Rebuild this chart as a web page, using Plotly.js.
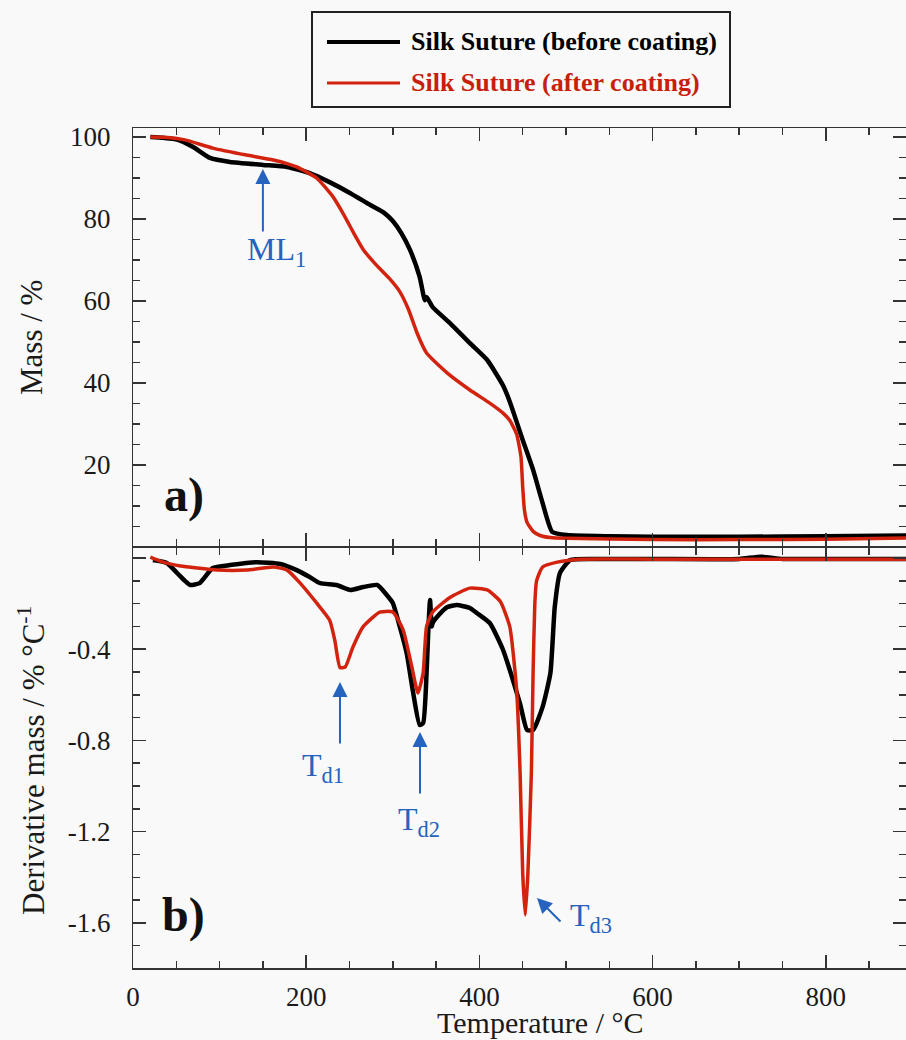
<!DOCTYPE html>
<html>
<head>
<meta charset="utf-8">
<script src="https://cdn.plot.ly/plotly-3.0.1.min.js"></script>
<style>html,body{margin:0;padding:0;background:#f9f9f9;}</style>
</head>
<body>
<div id="chart" style="width:906px;height:1040px;"></div>
<script>
// ---- Data ----
const seriesNames = ["Silk Suture (before coating)", "Silk Suture (after coating)"];

// a) Mass / % vs Temperature / °C
const tMassBefore = [20, 35, 51, 70, 89, 112, 150, 178, 204, 227, 251, 274, 290, 300, 310, 320, 331, 337, 339, 346, 366, 389, 409, 427, 435, 450, 462, 473, 484, 501, 550, 600, 700, 800, 893];
const massBefore  = [100, 99.8, 99.4, 97.5, 94.9, 93.9, 93.2, 92.7, 91.2, 89, 86.3, 83.4, 81.5, 79.5, 76.5, 72.4, 65.9, 60.2, 61, 58.5, 54.6, 49.7, 45.6, 39.5, 35.5, 26.1, 18.8, 10.7, 3.7, 2.9, 2.6, 2.5, 2.5, 2.6, 2.8];

const tMassAfter = [20, 40, 60, 92, 131, 162, 189, 212, 231, 243, 255, 266, 280, 296, 308, 318, 328, 339, 363, 389, 412, 427, 435, 443, 448, 450, 452, 455, 462, 470, 482, 501, 600, 700, 800, 893];
const massAfter  = [100, 99.9, 99.3, 97.3, 95.6, 94.4, 92.7, 90, 85.4, 81.2, 76.5, 72.5, 69, 65.5, 62.3, 58, 52.2, 47.3, 42.4, 38.3, 35.1, 32.7, 30.9, 27.5, 22, 14.6, 9, 6, 3.8, 2.8, 2.3, 2.1, 1.8, 1.8, 1.9, 2.2];

// b) Derivative mass / % °C-1 vs Temperature / °C
const tDerivBefore = [23, 39, 51, 60, 66, 77, 92, 112, 143, 170, 189, 204, 216, 235, 251, 266, 282, 293, 300, 308, 316, 323, 331, 335, 339, 341, 343, 345, 346, 351, 363, 374, 389, 397, 412, 427, 435, 447, 455, 462, 473, 482, 487, 493, 505, 536, 600, 700, 725, 750, 800, 893];
const derivBefore  = [-0.009, -0.022, -0.066, -0.1, -0.118, -0.11, -0.044, -0.031, -0.018, -0.026, -0.053, -0.083, -0.11, -0.118, -0.14, -0.127, -0.118, -0.162, -0.197, -0.30, -0.417, -0.579, -0.732, -0.724, -0.504, -0.316, -0.184, -0.30, -0.285, -0.259, -0.215, -0.206, -0.219, -0.241, -0.285, -0.40, -0.49, -0.64, -0.754, -0.754, -0.653, -0.504, -0.215, -0.066, -0.009, -0.004, -0.004, -0.004, 0.006, -0.004, -0.004, -0.004];

const tDerivAfter = [20, 35, 55, 74, 97, 131, 162, 178, 193, 212, 227, 233, 239, 245, 254, 266, 285, 300, 312, 322, 329, 335, 339, 346, 366, 389, 409, 424, 435, 443, 447, 450, 453, 456, 460, 462, 464, 466, 473, 490, 516, 600, 700, 800, 893];
const derivAfter  = [0.004, -0.018, -0.035, -0.044, -0.053, -0.053, -0.039, -0.053, -0.11, -0.197, -0.272, -0.36, -0.48, -0.478, -0.39, -0.30, -0.237, -0.237, -0.316, -0.478, -0.592, -0.504, -0.30, -0.237, -0.173, -0.132, -0.14, -0.19, -0.30, -0.579, -0.943, -1.382, -1.566, -1.382, -0.943, -0.5, -0.2, -0.1, -0.039, -0.018, -0.005, -0.005, -0.005, -0.005, -0.005];

const massTickVals = [20, 40, 60, 80, 100];
const derivTickVals = [-1.6, -1.2, -0.8, -0.4, 0];
const derivTickText = ["-1.6", "-1.2", "-0.8", "-0.4", ""];
const tempTickVals = [0, 200, 400, 600, 800];

// ---- Styles ----
const BLACK = "#000000";
const RED = "#d2230f";
const BLUE = "#2563be";
const FONT = "Liberation Serif, Times New Roman, serif";
const AX = "#333333";

const lineStyle = (c, w) => ({color: c, width: w, shape: "spline", smoothing: 0.5});
const ghost = (xs, ys, xa, ya) => ({x: xs, y: ys, xaxis: xa, yaxis: ya, type: "scatter", mode: "lines",
  line: {width: 0, color: "rgba(0,0,0,0)"}, opacity: 0, hoverinfo: "skip", showlegend: false});

const traces = [
  {x: tMassBefore, y: massBefore, name: seriesNames[0], type: "scatter", mode: "lines", line: lineStyle(BLACK, 4.5), xaxis: "x", yaxis: "y", showlegend: false},
  {x: tMassAfter, y: massAfter, name: seriesNames[1], type: "scatter", mode: "lines", line: lineStyle(RED, 3.5), xaxis: "x", yaxis: "y", showlegend: false},
  {x: tDerivBefore, y: derivBefore, name: seriesNames[0], type: "scatter", mode: "lines", line: lineStyle(BLACK, 4.5), xaxis: "x2", yaxis: "y2", showlegend: false},
  {x: tDerivAfter, y: derivAfter, name: seriesNames[1], type: "scatter", mode: "lines", line: lineStyle(RED, 3.5), xaxis: "x2", yaxis: "y2", showlegend: false},
  // invisible carriers so the label-only overlay axes are drawn
  ghost(tMassBefore, massBefore, "x", "y3"),
  ghost(tDerivBefore, derivBefore, "x2", "y4")
];

const tickFont = {family: FONT, size: 27, color: "#1a1a1a"};
const titleFont = {family: FONT, size: 31, color: "#1a1a1a"};

const xBase = {
  range: [0, 892.6], showgrid: false, zeroline: false,
  showline: true, linecolor: AX, linewidth: 1.5, mirror: "ticks",
  ticks: "inside", ticklen: 13, tickwidth: 1.5, tickcolor: AX,
  tickmode: "array", tickvals: tempTickVals,
  minor: {tick0: 0, dtick: 50, ticks: "inside", ticklen: 7, tickwidth: 1.5, tickcolor: AX, showgrid: false},
  tickfont: tickFont
};
const yBase = {
  showgrid: false, zeroline: false, showticklabels: false,
  showline: true, linecolor: AX, linewidth: 1.5, mirror: "ticks",
  ticks: "inside", ticklen: 13, tickwidth: 1.5, tickcolor: AX,
  tickfont: tickFont
};
// label-only overlay axes (transparent outside ticks push the labels off the frame)
const yLabel = {
  showgrid: false, zeroline: false, showline: false, side: "left",
  ticks: "outside", ticklen: 16, tickwidth: 1, tickcolor: "rgba(0,0,0,0)",
  tickfont: tickFont, tickmode: "array"
};

const massRange = [0.24, 102.2];
const derivRange = [-1.798, 0.044];

// paper-coordinate helpers (plot area: x 133..906 px, y 128..968 px)
const px = v => (v - 133) / 773;
const py = v => (968 - v) / 840;

const annFont = {family: FONT, size: 32, color: BLUE};
const arrowBase = {text: "", showarrow: true, arrowcolor: BLUE, arrowwidth: 2, arrowhead: 2, arrowsize: 1.5, standoff: 0};

const layout = {
  width: 906, height: 1040,
  margin: {l: 133, r: 0, t: 128, b: 72},
  paper_bgcolor: "#f9f9f9", plot_bgcolor: "#f9f9f9",
  showlegend: false,
  xaxis: Object.assign({}, xBase, {anchor: "y", domain: [0, 1], showticklabels: false}),
  xaxis2: Object.assign({}, xBase, {anchor: "y2", domain: [0, 1], showticklabels: true, ticklabelstandoff: 4}),
  yaxis: Object.assign({}, yBase, {
    anchor: "x", domain: [0.5024, 1], range: massRange,
    tickmode: "array", tickvals: massTickVals,
    minor: {tick0: 0, dtick: 5, ticks: "inside", ticklen: 7, tickwidth: 1.5, tickcolor: AX, showgrid: false}
  }),
  yaxis2: Object.assign({}, yBase, {
    anchor: "x2", domain: [0, 0.5], range: derivRange,
    tickmode: "array", tickvals: derivTickVals,
    minor: {tick0: 0, dtick: 0.1, ticks: "inside", ticklen: 7, tickwidth: 1.5, tickcolor: AX, showgrid: false}
  }),
  yaxis3: Object.assign({}, yLabel, {overlaying: "y", anchor: "x", range: massRange, tickvals: massTickVals}),
  yaxis4: Object.assign({}, yLabel, {overlaying: "y2", anchor: "x2", range: derivRange, tickvals: derivTickVals, ticktext: derivTickText}),
  shapes: [
    {type: "rect", xref: "paper", yref: "paper", x0: px(312), x1: px(730), y0: py(107), y1: py(12), line: {color: "#222", width: 2}, fillcolor: "rgba(0,0,0,0)"},
    {type: "line", xref: "paper", yref: "paper", x0: px(327), x1: px(400), y0: py(42), y1: py(42), line: {color: BLACK, width: 4}},
    {type: "line", xref: "paper", yref: "paper", x0: px(327), x1: px(400), y0: py(83), y1: py(83), line: {color: RED, width: 3}}
  ],
  annotations: [
    // legend text
    {xref: "paper", yref: "paper", x: px(409), y: py(42), xanchor: "left", yanchor: "middle", showarrow: false,
     text: seriesNames[0], font: {family: FONT, size: 26, color: "#000", weight: "bold"}},
    {xref: "paper", yref: "paper", x: px(409), y: py(83), xanchor: "left", yanchor: "middle", showarrow: false,
     text: seriesNames[1], font: {family: FONT, size: 26, color: "#c81e0c", weight: "bold"}},
    // axis titles
    {xref: "paper", yref: "paper", x: px(540), y: py(1040), xanchor: "center", yanchor: "bottom", showarrow: false, borderpad: 0,
     text: "Temperature / °C", font: {family: FONT, size: 30, color: "#1a1a1a"}},
    {xref: "paper", yref: "paper", x: px(31), y: py(337), xanchor: "center", yanchor: "middle", textangle: -90, showarrow: false,
     text: "Mass / %", font: titleFont},
    {xref: "paper", yref: "paper", x: px(31), y: py(760), xanchor: "center", yanchor: "middle", textangle: -90, showarrow: false,
     text: "Derivative mass / % °C<sup>-1</sup>", font: titleFont},
    // panel labels
    {xref: "x", yref: "y", x: 59, y: 12.7, showarrow: false, text: "a)", font: {family: FONT, size: 48, color: "#111", weight: "bold"}},
    {xref: "x2", yref: "y2", x: 58, y: -1.566, showarrow: false, text: "b)", font: {family: FONT, size: 48, color: "#111", weight: "bold"}},
    // ML1
    Object.assign({xref: "x", yref: "y", x: 150, y: 92.2, ax: 0, ay: 64}, arrowBase),
    {xref: "x", yref: "y", x: 166, y: 72.1, showarrow: false, text: "ML<sub>1</sub>", font: annFont},
    // Td1
    Object.assign({xref: "x2", yref: "y2", x: 239, y: -0.544, ax: 0, ay: 63}, arrowBase),
    {xref: "x2", yref: "y2", x: 219.4, y: -0.92, showarrow: false, text: "T<sub>d1</sub>", font: annFont},
    // Td2
    Object.assign({xref: "x2", yref: "y2", x: 331.4, y: -0.763, ax: 0, ay: 63}, arrowBase),
    {xref: "x2", yref: "y2", x: 330, y: -1.155, showarrow: false, text: "T<sub>d2</sub>", font: annFont},
    // Td3
    Object.assign({xref: "x2", yref: "y2", x: 466.5, y: -1.491, ax: 25, ay: 25}, arrowBase),
    {xref: "x2", yref: "y2", x: 502.3, y: -1.578, xanchor: "left", showarrow: false, text: "T<sub>d3</sub>", font: annFont}
  ]
};

Plotly.newPlot("chart", traces, layout, {staticPlot: true, displayModeBar: false});
</script>
</body>
</html>
